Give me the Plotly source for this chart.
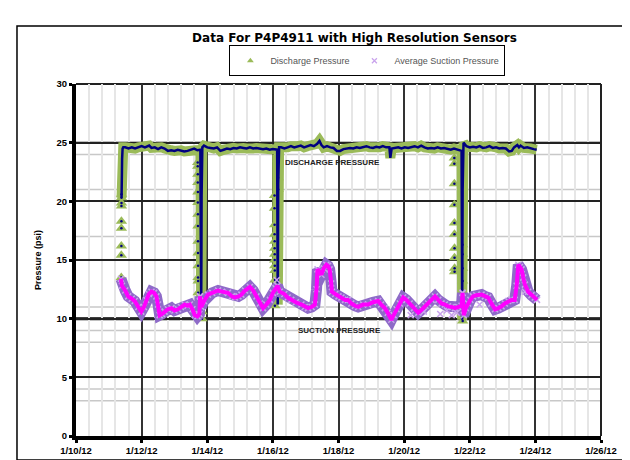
import pandas as pd
import plotly.graph_objects as go

# ---------------- data (time = days after 2012-01-10 00:00) ----------------
base = pd.Timestamp("2012-01-10")

# high-resolution discharge trace (navy line with green band)
dis_line_t = [1.388, 1.392, 1.396, 1.400, 1.405, 1.410, 1.420, 1.440, 1.50, 1.60, 1.70, 1.80,
              1.90, 2.00, 2.10, 2.23, 2.30, 2.40, 2.50, 2.60, 2.70, 2.80, 2.90, 3.00, 3.10,
              3.20, 3.30, 3.40, 3.50, 3.60, 3.70, 3.79, 3.800, 3.808, 3.815, 3.822, 3.828,
              3.834, 3.85, 3.90, 4.00, 4.10, 4.20, 4.30, 4.40, 4.50, 4.60, 4.70, 4.80, 4.90,
              5.00, 5.10, 5.20, 5.30, 5.40, 5.50, 5.60, 5.70, 5.80, 5.90, 6.00, 6.08, 6.13,
              6.140, 6.148, 6.156, 6.163, 6.170, 6.19, 6.25, 6.35, 6.45, 6.55, 6.65, 6.75,
              6.85, 6.95, 7.05, 7.15, 7.25, 7.35, 7.42, 7.48, 7.55, 7.65, 7.75, 7.85, 7.95,
              8.05, 8.15, 8.25, 8.35, 8.45, 8.55, 8.65, 8.75, 8.85, 8.95, 9.05, 9.15, 9.25,
              9.35, 9.45, 9.55, 9.58, 9.62, 9.72, 9.82, 9.92, 10.02, 10.12, 10.22, 10.32,
              10.42, 10.52, 10.62, 10.72, 10.82, 10.92, 11.02, 11.12, 11.22, 11.32, 11.42,
              11.52, 11.62, 11.70, 11.75, 11.760, 11.768, 11.776, 11.784, 11.792, 11.81,
              11.90, 12.00, 12.10, 12.20, 12.30, 12.40, 12.50, 12.60, 12.70, 12.80, 12.90,
              13.00, 13.10, 13.20, 13.28, 13.35, 13.45, 13.50, 13.55, 13.65, 13.75, 13.85,
              13.95, 14.04]
dis_line_v = [20.3, 20.6, 21.1, 22.5, 23.6, 24.2, 24.5, 24.6, 24.6, 24.5, 24.6, 24.5,
              24.6, 24.7, 24.6, 24.75, 24.55, 24.6, 24.45, 24.6, 24.5, 24.3, 24.35, 24.3, 24.4,
              24.35, 24.25, 24.3, 24.4, 24.5, 24.35, 24.4, 18.0, 12.5, 11.2, 15.0, 20.5,
              23.8, 24.6, 24.75, 24.6, 24.55, 24.5, 24.6, 24.3, 24.4, 24.5, 24.45, 24.55, 24.5,
              24.6, 24.55, 24.5, 24.6, 24.5, 24.55, 24.5, 24.45, 24.5, 24.4, 24.45, 24.4, 24.4,
              17.0, 11.2, 16.0, 21.5, 24.0, 24.6, 24.6, 24.5, 24.6, 24.7, 24.6, 24.7,
              24.75, 24.6, 24.7, 24.8, 24.7, 24.9, 25.15, 24.8, 24.6, 24.7, 24.6, 24.55, 24.3,
              24.3, 24.45, 24.5, 24.55, 24.5, 24.6, 24.55, 24.6, 24.7, 24.6, 24.55, 24.65, 24.6,
              24.7, 24.6, 24.6, 23.7, 24.5, 24.55, 24.6, 24.5, 24.6, 24.55, 24.6, 24.7,
              24.6, 24.75, 24.6, 24.5, 24.55, 24.5, 24.6, 24.5, 24.55, 24.45, 24.4,
              24.5, 24.4, 24.3, 24.3, 17.0, 9.9, 15.0, 21.0, 24.2, 25.0,
              24.7, 24.6, 24.65, 24.6, 24.7, 24.55, 24.6, 24.7, 24.55, 24.6, 24.5,
              24.55, 24.5, 24.25, 24.3, 24.6, 24.8, 24.6, 24.75, 24.55, 24.6, 24.5,
              24.45, 24.4]

# discharge samples during start-up / shut-down transients (triangles)
dis_pts_t = [1.380, 1.381, 1.382, 1.383, 1.384, 1.385, 1.386, 1.387, 1.388,
             3.71, 3.71, 3.712, 3.712, 3.714, 3.714, 3.716, 3.716, 3.718, 3.718, 3.72, 3.72, 3.722, 3.722,
             3.84, 3.84, 3.842,
             6.05, 6.05, 6.052, 6.052, 6.054, 6.054, 6.056, 6.056, 6.058, 6.058, 6.06, 6.06, 6.062,
             6.16, 6.16, 6.162,
             11.53, 11.53, 11.532, 11.532, 11.534, 11.534, 11.536, 11.536, 11.538, 11.538,
             11.78, 11.78, 11.782, 11.782, 11.784, 11.784]
dis_pts_v = [13.5, 15.4, 16.2, 17.7, 18.3, 19.6, 19.85, 20.3, 20.6,
             23.3, 23.0, 22.3, 21.6, 20.8, 19.9, 18.9, 17.9, 16.6, 15.6, 14.5, 13.5, 13.2, 12.2,
             10.0, 10.6, 12.0,
             20.5, 19.4, 18.0, 17.2, 16.6, 16.0, 15.5, 15.0, 14.5, 14.1, 12.5, 11.1, 13.3,
             23.6, 22.0, 21.0,
             23.7, 23.2, 21.5, 19.7, 18.15, 17.2, 16.0, 15.2, 14.3, 14.0,
             16.3, 15.5, 14.3, 13.2, 11.8, 9.8]

# average suction pressure
suc_t = [1.37, 1.40, 1.50, 1.59, 1.70, 1.79, 1.90, 1.99, 2.07, 2.14, 2.22, 2.30, 2.38, 2.45,
         2.50, 2.55, 2.62, 2.70, 2.80, 2.91, 3.00, 3.11, 3.20, 3.31, 3.40, 3.47, 3.55, 3.62,
         3.70, 3.76, 3.78, 3.82, 3.90, 4.02, 4.15, 4.33, 4.45, 4.63, 4.75, 4.84, 4.95, 5.04,
         5.15, 5.30, 5.40, 5.50, 5.60, 5.70, 5.80, 5.91, 6.00, 6.08, 6.14, 6.21, 6.35, 6.45,
         6.56, 6.70, 6.87, 6.97, 7.07, 7.18, 7.28, 7.33, 7.36, 7.42, 7.48, 7.55, 7.63, 7.68,
         7.73, 7.78, 7.80, 7.90, 8.00, 8.09, 8.20, 8.29, 8.39, 8.50, 8.60, 8.75, 8.90, 9.05,
         9.21, 9.30, 9.41, 9.50, 9.61, 9.68, 9.77, 9.87, 9.97, 10.07, 10.17, 10.30, 10.43,
         10.55, 10.65, 10.73, 10.84, 10.94, 11.04, 11.14, 11.24, 11.34, 11.45, 11.55, 11.65,
         11.75, 11.78, 11.82, 11.88, 11.95, 12.02, 12.10, 12.20, 12.36, 12.46, 12.56, 12.66,
         12.77, 12.87, 12.97, 13.07, 13.17, 13.27, 13.37, 13.43, 13.48, 13.53, 13.58, 13.63,
         13.68, 13.78, 13.88, 13.98, 14.05]
suc_v = [13.4, 12.8, 12.4, 11.9, 11.7, 11.5, 11.0, 10.6, 11.0, 11.6, 12.1, 12.3, 12.2, 11.9,
         11.2, 10.3, 10.4, 10.6, 10.8, 10.9, 10.7, 10.8, 11.0, 11.2, 11.1, 11.2, 10.8, 10.3,
         10.2, 10.4, 11.9, 11.0, 11.5, 12.05, 12.2, 12.4, 12.3, 12.2, 11.9, 11.8, 11.9, 12.05,
         12.4, 12.7, 12.4, 11.9, 11.3, 10.9, 11.2, 11.6, 12.2, 12.6, 12.8, 12.3, 12.1, 11.8,
         11.6, 11.4, 11.2, 11.0, 10.9, 11.0, 11.2, 12.5, 14.2, 14.0, 13.75, 14.3, 14.6, 14.5,
         14.2, 13.0, 12.3, 12.1, 11.9, 11.8, 11.6, 11.6, 11.3, 11.1, 11.0, 11.2, 11.2, 11.4,
         11.5, 11.2, 10.9, 10.5, 9.9, 10.3, 10.8, 11.3, 11.8, 11.6, 11.3, 10.9, 10.5,
         10.8, 11.1, 11.3, 11.6, 11.9, 11.6, 11.3, 11.2, 11.05, 11.0, 10.9, 11.0,
         11.1, 12.2, 10.3, 10.9, 11.3, 11.6, 11.9, 12.0, 12.05, 11.9, 11.8, 11.3,
         10.8, 10.9, 11.05, 11.3, 11.5, 11.6, 11.6, 12.8, 14.6, 14.4, 14.2, 13.5,
         12.9, 12.3, 12.0, 11.8, 11.6]

# loose suction samples away from the average band
suc_pts_t = [3.78, 6.12, 10.20, 10.60, 11.10, 11.30, 11.45, 11.60, 11.78, 12.30, 13.68]
suc_pts_v = [11.9, 13.3, 10.3, 10.6, 10.4, 10.7, 10.3, 10.5, 12.2, 11.2, 12.3]

# reference levels (heavy lines) and alarm bands (grey lines)
limit_levels = [25, 10]
limit_labels = ["DISCHARGE PRESSURE", "SUCTION PRESSURE"]
limit_label_t = [7.82, 8.04]
limit_label_v = [23.3, 9.0]
band_levels = [24, 21, 17, 11, 9, 8, 4, 3]

series_names = ["Discharge Pressure", "Average Suction Pressure"]


def to_dt(days):
    return [base + pd.to_timedelta(d, unit="D") for d in days]


DAY_MS = 86400000
FONT = "Liberation Sans, Arial"
fig = go.Figure()

# green band around the discharge trace
fig.add_trace(go.Scatter(x=to_dt(dis_line_t), y=dis_line_v, mode="lines",
                         line=dict(color="#9BBB59", width=10), showlegend=False,
                         hoverinfo="skip"))
# discharge triangles
fig.add_trace(go.Scatter(x=to_dt(dis_pts_t), y=dis_pts_v, mode="markers",
                         name=series_names[0], showlegend=False,
                         marker=dict(symbol="triangle-up", size=10, color="#9BBB59")))
# navy discharge line
fig.add_trace(go.Scatter(x=to_dt(dis_line_t), y=dis_line_v, mode="lines",
                         line=dict(color="#000080", width=2.5), showlegend=False))
fig.add_trace(go.Scatter(x=to_dt(dis_pts_t), y=dis_pts_v, mode="markers",
                         marker=dict(symbol="circle", size=2.5, color="#000080"),
                         showlegend=False))

# suction band
fig.add_trace(go.Scatter(x=to_dt(suc_t), y=suc_v, mode="lines",
                         line=dict(color="#8E6BC8", width=11), showlegend=False,
                         hoverinfo="skip"))
fig.add_trace(go.Scatter(x=to_dt(suc_t + suc_pts_t), y=suc_v + suc_pts_v, mode="markers",
                         name=series_names[1], showlegend=False,
                         marker=dict(symbol="x-thin", size=6, color="#C9A3EC",
                                     line=dict(width=1.5, color="#C9A3EC"))))
fig.add_trace(go.Scatter(x=to_dt(suc_t), y=suc_v, mode="lines",
                         line=dict(color="#FF00FF", width=4), showlegend=False))

# legend entries (small symbols, as in the source legend)
fig.add_trace(go.Scatter(x=[None], y=[None], mode="markers", name=series_names[0],
                         marker=dict(symbol="triangle-up", size=6, color="#9BBB59")))
fig.add_trace(go.Scatter(x=[None], y=[None], mode="markers", name=series_names[1],
                         marker=dict(symbol="x-thin", size=5, color="#C9A3EC",
                                     line=dict(width=1.2, color="#C9A3EC"))))

shapes = []
for lv in band_levels:
    shapes.append(dict(type="line", xref="paper", yref="y", x0=0, x1=1, y0=lv, y1=lv,
                       line=dict(color="#C8C8C8", width=1.5), layer="below"))
for lv, w in zip(limit_levels, [2, 3]):
    shapes.append(dict(type="line", xref="paper", yref="y", x0=0, x1=1, y0=lv, y1=lv,
                       line=dict(color="#000000", width=w), layer="below"))
# right and top frame of the plot area
shapes.append(dict(type="line", xref="paper", yref="paper", x0=1, x1=1, y0=0, y1=1,
                   line=dict(color="#222222", width=2), layer="below"))
shapes.append(dict(type="line", xref="paper", yref="paper", x0=0, x1=1, y0=1, y1=1,
                   line=dict(color="#222222", width=2), layer="below"))
# chart outer border
shapes.append(dict(type="rect", xref="paper", yref="paper",
                   x0=-0.1124, x1=1.0552, y0=-0.0682, y1=1.1648,
                   line=dict(color="#000000", width=1.5)))

annotations = []
for txt, t, v in zip(limit_labels, limit_label_t, limit_label_v):
    annotations.append(dict(x=to_dt([t])[0], y=v, text=txt, showarrow=False,
                            font=dict(family="Liberation Sans Narrow, Liberation Sans, Arial",
                                      size=8, color="#222222", weight="bold")))

fig.update_layout(
    width=630, height=460,
    margin=dict(l=68, r=37, t=76, b=32),
    paper_bgcolor="white", plot_bgcolor="white",
    title=dict(text="Data For P4P4911 with High Resolution Sensors",
               x=0.55, xanchor="center", y=0.935, yanchor="middle",
               font=dict(family="DejaVu Sans, Liberation Sans", size=12, color="#000000",
                         weight="bold")),
    legend=dict(orientation="h", x=0.555, xanchor="center", y=1.066, yanchor="middle",
                bordercolor="#000000", borderwidth=1, bgcolor="white",
                font=dict(family=FONT, size=9, color="#555555"),
                itemwidth=30, tracegroupgap=0),
    shapes=shapes,
    annotations=annotations,
    xaxis=dict(type="date",
               range=[base, base + pd.Timedelta(days=16)],
               tick0=base, dtick=2 * DAY_MS, tickformat="%-m/%d/%y",
               showgrid=True, gridcolor="#333333", gridwidth=1.5,
               minor=dict(dtick=int(0.4 * DAY_MS), tick0=base, showgrid=True,
                          gridcolor="#E6E6E6", gridwidth=1.5),
               showline=True, linecolor="#000000", linewidth=4,
               ticks="outside", ticklen=3, tickwidth=3, tickcolor="#000000",
               tickfont=dict(family=FONT, size=9.5, color="#000000", weight="bold"),
               zeroline=False),
    yaxis=dict(range=[0, 30], dtick=5,
               showgrid=True, gridcolor="#222222", gridwidth=1.5,
               showline=True, linecolor="#000000", linewidth=4,
               ticks="outside", ticklen=3, tickwidth=3, tickcolor="#000000",
               tickfont=dict(family=FONT, size=9.5, color="#000000", weight="bold"),
               title=dict(text="Pressure (psi)", standoff=14,
                          font=dict(family=FONT, size=9, color="#000000", weight="bold")),
               zeroline=False),
)

fig.write_html("out.html")
